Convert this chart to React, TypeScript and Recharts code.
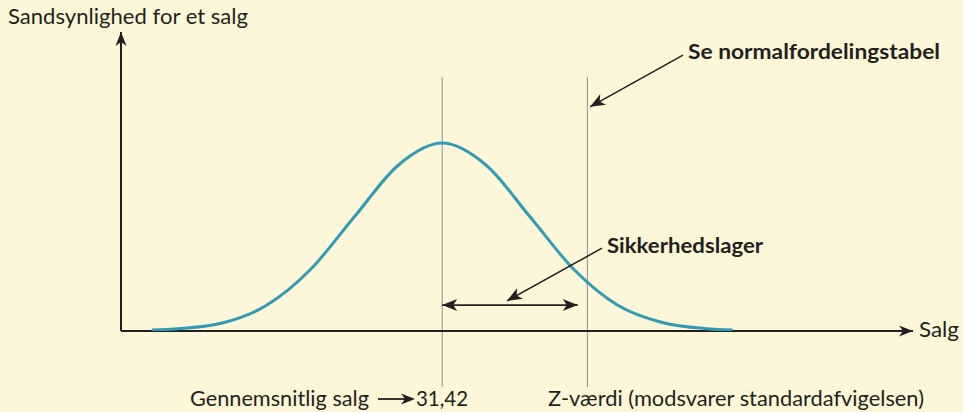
import React from 'react';
import { ComposedChart, Line, XAxis, YAxis, ReferenceLine } from 'recharts';

// Sales measured in standard deviations from the mean (z)
const zValues = [-3.3, -3, -2.5, -2, -1.5, -1, -0.5, 0, 0.5, 1, 1.5, 2, 2.5, 3, 3.3];
// Probability density
const density = [0.002, 0.005, 0.017, 0.054, 0.13, 0.242, 0.352, 0.399, 0.352, 0.242, 0.13, 0.054, 0.018, 0.005, 0.002];

const meanZ = 0;
const serviceZ = 1.65;
const xDomain: [number, number] = [-3.65, 5.35];
const yDomain: [number, number] = [0, 0.635];

const BG = '#fdf6d9';
const INK = '#231f20';
const CURVE = '#2f9cb4';
const GUIDE = '#8f8f9a';
const FONT = 'Lato, "Open Sans", sans-serif';

const data = zValues.map((z, i) => ({ z, d: density[i] }));

type Pt = { x: number; y: number };

const headPoints = (tip: Pt, from: Pt, len = 14, half = 5.5, notch = 4) => {
  const dx = tip.x - from.x;
  const dy = tip.y - from.y;
  const l = Math.hypot(dx, dy) || 1;
  const ux = dx / l;
  const uy = dy / l;
  const px = -uy;
  const py = ux;
  const bx = tip.x - ux * len;
  const by = tip.y - uy * len;
  const nx = tip.x - ux * (len - notch);
  const ny = tip.y - uy * (len - notch);
  return `${tip.x},${tip.y} ${bx + px * half},${by + py * half} ${nx},${ny} ${bx - px * half},${by - py * half}`;
};

// line with a barbed head at the end (and optionally the start)
const arrowShape =
  (both = false, width = 1.6, len = 14, half = 5.5) =>
  (props: any) => {
    const a = { x: props.x1, y: props.y1 };
    const b = { x: props.x2, y: props.y2 };
    return (
      <g>
        <line x1={a.x} y1={a.y} x2={b.x} y2={b.y} stroke={INK} strokeWidth={width} />
        <polygon points={headPoints(b, a, len, half)} fill={INK} />
        {both && <polygon points={headPoints(a, b, len, half)} fill={INK} />}
      </g>
    );
  };

const textStyle = { fontFamily: FONT, fill: INK } as const;

export default function App() {
  return (
    <div style={{ position: 'absolute', left: 0, top: 0, width: 963, height: 412, background: BG }}>
      <ComposedChart
        width={963}
        height={412}
        data={data}
        margin={{ top: 32, right: 50, bottom: 81, left: 121 }}
        style={{ background: BG }}
      >
        <XAxis dataKey="z" type="number" domain={xDomain} hide allowDataOverflow />
        <YAxis type="number" domain={yDomain} hide allowDataOverflow />

        {/* mean and z-value guides */}
        <ReferenceLine
          segment={[{ x: meanZ, y: -0.119 }, { x: meanZ, y: 0.539 }]}
          stroke={GUIDE}
          strokeWidth={1}
          ifOverflow="visible"
        />
        <ReferenceLine
          segment={[{ x: serviceZ, y: -0.119 }, { x: serviceZ, y: 0.539 }]}
          stroke={GUIDE}
          strokeWidth={1}
          ifOverflow="visible"
        />

        {/* axes */}
        <ReferenceLine
          segment={[{ x: xDomain[0], y: 0 }, { x: xDomain[1], y: 0 }]}
          shape={arrowShape(false, 2, 14, 5.5)}
          ifOverflow="visible"
        />
        <ReferenceLine
          segment={[{ x: xDomain[0], y: 0 }, { x: xDomain[0], y: yDomain[1] }]}
          shape={arrowShape(false, 2, 14, 5.5)}
          ifOverflow="visible"
        />

        <Line
          type="monotone"
          dataKey="d"
          stroke={CURVE}
          strokeWidth={3}
          dot={false}
          isAnimationActive={false}
        />

        {/* safety stock span and callouts */}
        <ReferenceLine
          segment={[{ x: meanZ, y: 0.055 }, { x: 1.54, y: 0.055 }]}
          shape={arrowShape(true, 1.8, 15, 6)}
          ifOverflow="visible"
        />
        <ReferenceLine
          segment={[{ x: 1.816, y: 0.176 }, { x: 0.736, y: 0.064 }]}
          shape={arrowShape(false, 1.5, 15, 6)}
          ifOverflow="visible"
        />
        <ReferenceLine
          segment={[{ x: 2.736, y: 0.586 }, { x: 1.68, y: 0.476 }]}
          shape={arrowShape(false, 1.5, 15, 6)}
          ifOverflow="visible"
        />

        <text x={8} y={24} fontSize={21} textLength={240} lengthAdjust="spacingAndGlyphs" style={textStyle}>
          Sandsynlighed for et salg
        </text>
        <text x={688} y={59} fontSize={21.5} fontWeight={700} textLength={252} lengthAdjust="spacingAndGlyphs" style={textStyle}>
          Se normalfordelingstabel
        </text>
        <text x={607} y={253} fontSize={21.5} fontWeight={700} textLength={156} lengthAdjust="spacingAndGlyphs" style={textStyle}>
          Sikkerhedslager
        </text>
        <text x={919} y={337} fontSize={21} textLength={40} lengthAdjust="spacingAndGlyphs" style={textStyle}>
          Salg
        </text>
        <text x={190} y={406} fontSize={22} textLength={179} lengthAdjust="spacingAndGlyphs" style={textStyle}>
          Gennemsnitlig salg
        </text>
        <g>
          <line x1={378} y1={399} x2={406} y2={399} stroke={INK} strokeWidth={1.8} />
          <polygon points={headPoints({ x: 415, y: 399 }, { x: 378, y: 399 }, 14, 5.5)} fill={INK} />
        </g>
        <text x={416} y={406} fontSize={22} textLength={52} lengthAdjust="spacingAndGlyphs" style={textStyle}>
          31,42
        </text>
        <text x={548} y={406} fontSize={22} textLength={376} lengthAdjust="spacingAndGlyphs" style={textStyle}>
          Z-værdi (modsvarer standardafvigelsen)
        </text>
      </ComposedChart>
    </div>
  );
}
